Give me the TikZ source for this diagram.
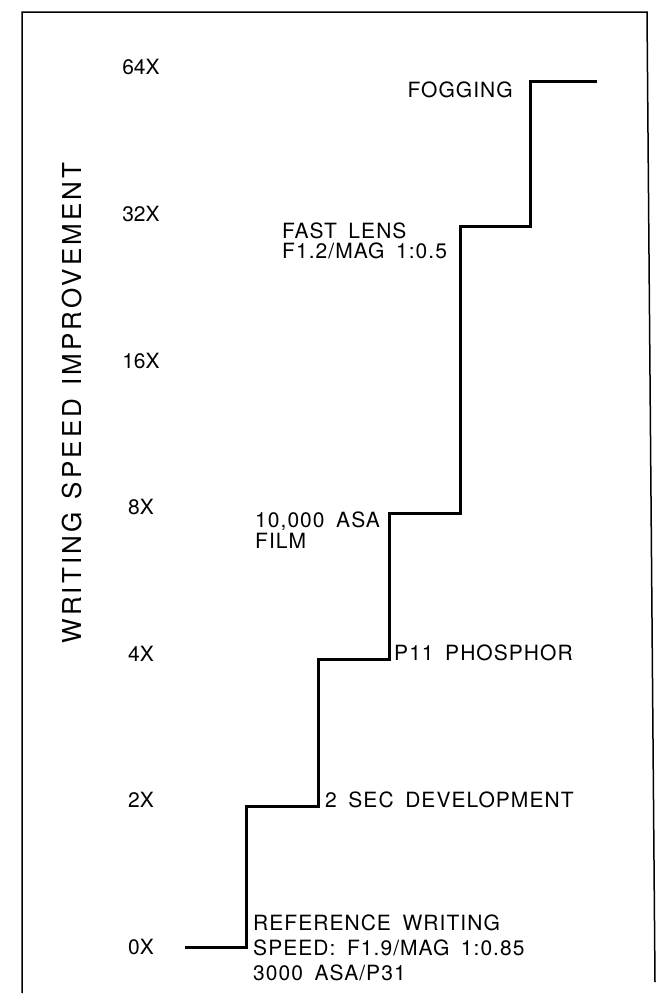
\documentclass[tikz,border=0pt]{standalone}
\usepackage{fontspec}
\setmainfont{TeX Gyre Heros}
\newfontfamily\ticklabelfont{TeX Gyre Heros}
\newfontfamily\steplabelfont{TeX Gyre Heros}[LetterSpace=5]
\newfontfamily\axislabelfont{TeX Gyre Heros}[LetterSpace=12]
\usetikzlibrary{arrows,shapes}
\tikzstyle{tick}=[anchor=center,inner sep=0pt,font={\ticklabelfont\fontsize{21}{24}\selectfont}]
\tikzstyle{step label}=[inner sep=0pt,font={\steplabelfont\fontsize{21}{24}\selectfont\spaceskip=0.55em\relax}]
\tikzstyle{axis label}=[rotate=90,inner sep=0pt,font={\axislabelfont\fontsize{26}{30}\selectfont\spaceskip=0.5em\relax}]
\tikzstyle{stair}=[draw,line width=3pt,line join=miter,-]
\tikzstyle{frame}=[draw,line width=1.5pt,-]

\begin{document}
\begin{tikzpicture}[x=1pt,y=-1pt]
    \useasboundingbox (0,0) rectangle (658,994);

    % Frame
    \path[frame] (22,993) -- (22,12) -- (647,12) -- (655,982);

    % Tick labels
    \foreach \pos/\name in {{(141,67)/64}, {(141,214)/32}, {(141,361)/16}, {(141,507)/8},
                            {(141,654)/4}, {(141,800)/2}, {(141,947)/0}}
        \node[tick] (t\name) at \pos {\name X};

    % Axis label
    \node[axis label] (axis) at (72,403) {WRITING SPEED IMPROVEMENT};

    % Step corners
    \foreach \pos/\name in {{(185,947)/c0}, {(246,947)/c1}, {(246,806)/c2}, {(318,806)/c3},
                            {(318,659)/c4}, {(389,659)/c5}, {(389,513)/c6}, {(460,513)/c7},
                            {(460,226)/c8}, {(530,226)/c9}, {(530,81)/c10}, {(597,81)/c11}}
        \node[coordinate] (\name) at \pos {};

    % Staircase
    \path[stair] (c0) -- (c1) -- (c2) -- (c3) -- (c4) -- (c5) -- (c6)
                 -- (c7) -- (c8) -- (c9) -- (c10) -- (c11);

    % Step labels
    \node[step label, anchor=base east] (fog) at (513,97) {FOGGING};
    \node[step label, anchor=base west] (lens1) at (282,238) {FAST LENS};
    \node[step label, anchor=base west] (lens2) at (282,258) {F1.2/MAG 1:0.5};
    \node[step label, anchor=base west] (film1) at (255,527) {10,000 ASA};
    \node[step label, anchor=base west] (film2) at (255,548) {FILM};
    \node[step label, anchor=base west] (phos) at (394,660) {P11 PHOSPHOR};
    \node[step label, anchor=base west] (dev) at (325,807) {2 SEC DEVELOPMENT};
    \node[step label, anchor=base west] (ref1) at (253,930) {REFERENCE WRITING};
    \node[step label, anchor=base west] (ref2) at (253,955) {SPEED: F1.9/MAG 1:0.85};
    \node[step label, anchor=base west] (ref3) at (253,980) {3000 ASA/P31};

\end{tikzpicture}
\end{document}
